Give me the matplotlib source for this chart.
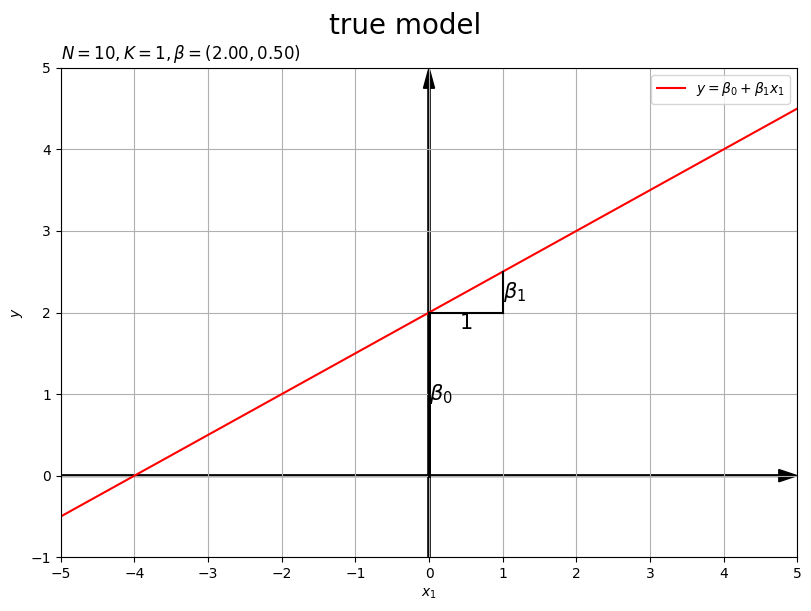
import numpy as np
import matplotlib
matplotlib.use("Agg")
import matplotlib.pyplot as plt

# true model parameters
N = 10
K = 1
beta = [2.00, 0.50]
x_range = [-5, 5]
y_range = [-1, 5]

fig, ax = plt.subplots(figsize=(8.11, 6.11), dpi=100)
fig.subplots_adjust(left=0.075, right=0.983, top=0.889, bottom=0.088)
fig.suptitle("true model", fontsize=20)

# axis arrows
ax.arrow(x_range[0], 0, x_range[1] - x_range[0], 0, width=0.02, head_width=0.15,
         head_length=0.25, length_includes_head=True, color="k")
ax.arrow(0, y_range[0], 0, y_range[1] - y_range[0], width=0.03, head_width=0.15,
         head_length=0.25, length_includes_head=True, color="k")

xs = np.array(x_range)
ax.plot(xs, beta[0] + beta[1] * xs, color="red", label=r"$y=\beta_0+\beta_1x_1$")

# intercept and slope markers
ax.plot([0, 0], [0, beta[0]], color="k", lw=2)
ax.plot([0, 1], [beta[0], beta[0]], color="k", lw=1.5)
ax.plot([1, 1], [beta[0], beta[0] + beta[1]], color="k", lw=1.5)
ax.text(0, beta[0] / 2, r"$\beta_0$", fontsize=15, va="center", ha="left")
ax.text(0.5, beta[0], "1", fontsize=15, va="top", ha="center")
ax.text(1, beta[0] + beta[1] / 2, r"$\beta_1$", fontsize=15, va="center", ha="left")

ax.set_xlim(x_range)
ax.set_ylim(y_range)
ax.set_xticks(np.arange(x_range[0], x_range[1] + 1))
ax.set_xlabel(r"$x_1$")
ax.set_ylabel(r"$y$")
ax.set_title(r"$N={}, K={}, \beta=({:.2f}, {:.2f})$".format(N, K, beta[0], beta[1]),
             loc="left")
ax.grid(True)
ax.legend(loc="upper right")

fig.savefig("out.png")
